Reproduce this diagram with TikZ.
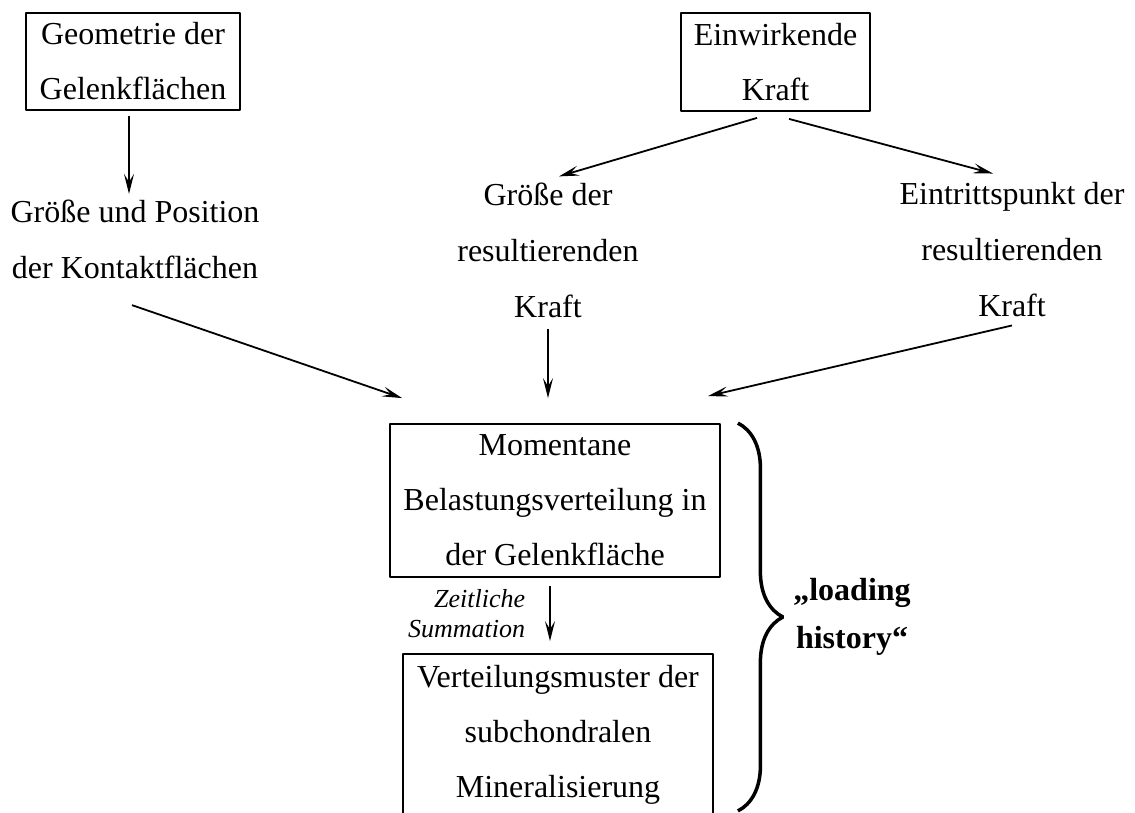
\documentclass[tikz,border=0pt]{standalone}
\usepackage{fontspec}
\setmainfont{Liberation Serif}
\usepackage{tikz}
\usetikzlibrary{arrows.meta, positioning, decorations.pathreplacing}
\tikzset{boxnode/.style={draw=black, line width=1.8pt, align=center, inner sep=0pt, font=\fontsize{32}{55}\selectfont},
plainnode/.style={align=center, inner sep=2pt, font=\fontsize{32}{56}\selectfont}}

\begin{document}
\begin{tikzpicture}[
        line join=bevel,
        flowarrow/.style={-{Stealth[length=20pt, width=10pt, inset=8pt]}, line width=1.8pt},
        sumlabel/.style={align=right, inner sep=0pt, font=\fontsize{26}{30}\selectfont\itshape},
        historynode/.style={align=center, inner sep=0pt, font=\fontsize{32}{48}\selectfont\bfseries}
    ]
        \useasboundingbox (0pt, 0pt) rectangle (1135pt, -812pt);
        \clip (0pt, 0pt) rectangle (1135pt, -812pt);
        % Boxes
        \node[boxnode, minimum width=214pt, minimum height=97pt] (geo) at (133pt, -61.5pt) {Geometrie der\\Gelenkflächen};
        \node[boxnode, minimum width=189pt, minimum height=98pt] (force) at (775.5pt, -62pt) {Einwirkende\\Kraft};
        \node[boxnode, minimum width=330pt, minimum height=153pt] (moment) at (555pt, -500.5pt) {Momentane\\Belastungsverteilung in\\der Gelenkfläche};
        \node[boxnode, minimum width=310pt, minimum height=162pt] (muster) at (558pt, -735pt) {Verteilungsmuster der\\subchondralen\\Mineralisierung};
        % Texts
        \node[plainnode] (kontakt) at (135pt, -239.5pt) {Größe und Position\\der Kontaktflächen};
        \node[plainnode] (groesse) at (548pt, -250pt) {Größe der\\resultierenden\\Kraft};
        \node[plainnode] (eintritt) at (1012pt, -250pt) {Eintrittspunkt der\\resultierenden\\Kraft};
        % Arrows
        \draw[flowarrow] ([xshift=-4pt, yshift=-5pt]geo.south) -- ([xshift=-6pt, yshift=4pt]kontakt.north);
        \draw[flowarrow] ([xshift=-18.5pt, yshift=-6pt]force.south) -- ([xshift=11pt, yshift=4pt]groesse.north);
        \draw[flowarrow] ([xshift=13.5pt, yshift=-7pt]force.south) -- ([xshift=-19pt, yshift=7pt]eintritt.north);
        \draw[flowarrow] ([xshift=-3pt, yshift=-24pt]kontakt.south) -- ([xshift=13pt, yshift=25pt]moment.north west);
        \draw[flowarrow] ([yshift=-9pt]groesse.south) -- ([xshift=-7pt, yshift=25pt]moment.north);
        \draw[flowarrow] ([yshift=-6pt]eintritt.south) -- ([xshift=-13pt, yshift=27pt]moment.north east);
        \draw[flowarrow] ([xshift=-5pt, yshift=-8pt]moment.south) -- node[left=24pt, sumlabel] {Zeitliche\\Summation} ([xshift=-8pt, yshift=12pt]muster.north);
        % Brace
        \draw[line width=3.5pt, decorate, decoration={brace, amplitude=45pt}] ([xshift=17pt]moment.north east) -- ([xshift=24pt, yshift=6pt]muster.south east);
        \node[historynode] (history) at (852pt, -617pt) {„loading\\history“};
    \end{tikzpicture}
\end{document}
